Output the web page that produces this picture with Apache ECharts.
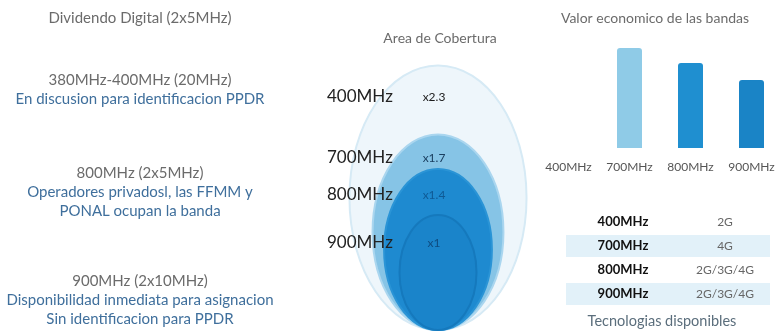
<!DOCTYPE html>
<html><head><meta charset="utf-8">
<script src="https://cdn.jsdelivr.net/npm/echarts@6/dist/echarts.min.js"></script>
<style>html,body{margin:0;padding:0;background:#fff}#c{width:782px;height:331px}</style>
</head><body><div id="c"></div>
<script>
// ---- data ----
const bands = ['400MHz', '700MHz', '800MHz', '900MHz'];
const coverageFactor = [2.3, 1.7, 1.4, 1];
const coverageLabels = ['x2.3', 'x1.7', 'x1.4', 'x1'];
const economicValue = [null, 100, 85, 68];
const techBands = ['400MHz', '700MHz', '800MHz', '900MHz'];
const techValues = ['2G', '4G', '2G/3G/4G', '2G/3G/4G'];
const noteHeads = ['Dividendo Digital (2x5MHz)', '380MHz-400MHz (20MHz)', '800MHz (2x5MHz)', '900MHz (2x10MHz)'];
const noteBodies = [[], ['En discusion para identificacion PPDR'], ['Operadores privadosl, las FFMM y', 'PONAL ocupan la banda'], ['Disponibilidad inmediata para asignacion', 'Sin identificacion para PPDR']];
const titles = ['Area de Cobertura', 'Valor economico de las bandas', 'Tecnologias disponibles'];

// ---- layout / style ----
const FONT = 'Lato, "Open Sans", sans-serif';
const noteX = 140;
const headY = [18, 80, 173, 281];
const lineGap = 19;
const labelY = [97, 158, 195, 243];
const ellFill = ['#eef6fb', '#86c4e6', '#1e8ad0', '#1a84ca'];
const ellStroke = ['#d6eaf5', '#aad6ef', '#2a94d6', '#1579bd'];
const multColor = ['#1a1a1a', '#1b3f60', '#0f5a95', '#0e4c80'];
const barColors = ['#8fcbe7', '#8fcbe7', '#1f8fd0', '#1a84c6'];
const rowY = [222, 246, 270, 294];

const graphics = [];
noteHeads.forEach((h, i) => {
  graphics.push({type: 'text', x: noteX, y: headY[i], style: {text: h, fill: '#6b6b6b', font: '15px ' + FONT, textAlign: 'center', textVerticalAlign: 'middle'}});
  noteBodies[i].forEach((b, j) => {
    graphics.push({type: 'text', x: noteX, y: headY[i] + lineGap * (j + 1), style: {text: b, fill: '#3f6f9c', font: '15px ' + FONT, textAlign: 'center', textVerticalAlign: 'middle'}});
  });
});
graphics.push({type: 'text', x: 440, y: 38, style: {text: titles[0], fill: '#6b6b6b', font: '14px ' + FONT, textAlign: 'center', textVerticalAlign: 'middle'}});
graphics.push({type: 'text', x: 655, y: 18, style: {text: titles[1], fill: '#6b6b6b', font: '14px ' + FONT, textAlign: 'center', textVerticalAlign: 'middle'}});
techBands.forEach((b, i) => {
  if (i % 2 === 1) graphics.push({type: 'rect', z: -1, shape: {x: 566, y: rowY[i] - 11, width: 204, height: 22}, style: {fill: '#e2f1f9'}});
  graphics.push({type: 'text', x: 623, y: rowY[i], style: {text: b, fill: '#111', font: 'bold 13px ' + FONT, textAlign: 'center', textVerticalAlign: 'middle'}});
  graphics.push({type: 'text', x: 725, y: rowY[i], style: {text: techValues[i], fill: '#666', font: '12px ' + FONT, textAlign: 'center', textVerticalAlign: 'middle'}});
});
graphics.push({type: 'text', x: 662, y: 321, style: {text: titles[2], fill: '#5b6e7c', font: '14.5px ' + FONT, textAlign: 'center', textVerticalAlign: 'middle'}});

const chart = echarts.init(document.getElementById('c'), null, {renderer: 'canvas'});
chart.setOption({
  backgroundColor: '#fff',
  animation: false,
  graphic: graphics,
  grid: [
    {left: 538, top: 48, width: 254, height: 100},
    {left: 399.5, top: 215, width: 77, height: 115}
  ],
  xAxis: [
    {gridIndex: 0, type: 'category', data: bands, axisLine: {show: false}, axisTick: {show: false},
     axisLabel: {color: '#555', fontSize: 12, fontFamily: FONT, margin: 13, interval: 0}},
    {gridIndex: 1, type: 'value', min: -1, max: 1, show: false}
  ],
  yAxis: [
    {gridIndex: 0, type: 'value', min: 0, max: 100, show: false},
    {gridIndex: 1, type: 'value', min: 0, max: 2, show: false}
  ],
  series: [
    {type: 'bar', xAxisIndex: 0, yAxisIndex: 0, barWidth: 25,
     data: economicValue.map((v, i) => ({value: v, itemStyle: {color: barColors[i], borderRadius: [3, 3, 0, 0]}}))},
    {type: 'custom', xAxisIndex: 1, yAxisIndex: 1, clip: false,
     data: coverageFactor.map((f, i) => [0, f, i]),
     renderItem: function (params, api) {
       const f = api.value(1), i = api.value(2);
       const c = api.coord([0, f]);
       const s = api.size([f, f]);
       return {type: 'group', children: [
         {type: 'ellipse', shape: {cx: c[0], cy: c[1], rx: s[0], ry: s[1]},
          style: {fill: ellFill[i], stroke: ellStroke[i], lineWidth: 2}},
         {type: 'text', style: {x: 327, y: labelY[i], text: bands[i], fill: '#222', font: '17px ' + FONT, textVerticalAlign: 'middle'}},
         {type: 'text', style: {x: 434, y: labelY[i], text: coverageLabels[i], fill: multColor[i], font: '12px ' + FONT, textAlign: 'center', textVerticalAlign: 'middle'}}
       ]};
     }}
  ]
});
</script></body></html>
